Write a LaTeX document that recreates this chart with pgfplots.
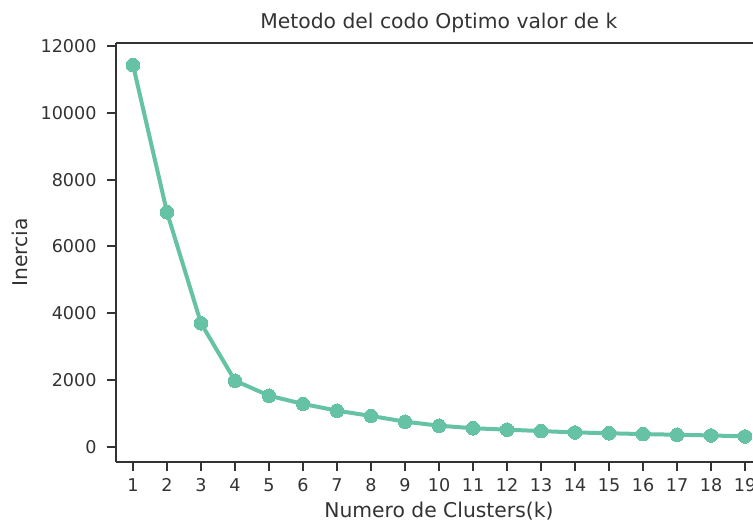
\documentclass[border=0pt]{standalone}
\usepackage{fontspec}
\setmainfont{DejaVu Sans}
\usepackage{pgfplots}
\pgfplotsset{compat=1.18}
\definecolor{seagreen}{HTML}{66C2A5}
\definecolor{dark}{HTML}{333333}
\begin{document}
\begin{tikzpicture}
\useasboundingbox (-58pt,-30pt) rectangle (318.5pt,231pt);
\begin{axis}[
  at={(0,0)}, anchor=south west,
  scale only axis, width=318.5pt, height=209.7pt,
  xmin=0.5, xmax=19.235, ymin=-450, ymax=12100,
  axis x line*=bottom, axis y line*=left,
  xtick={1,...,19}, ytick={0,2000,...,12000},
  scaled y ticks=false,
  /pgf/number format/assume math mode=true,
  yticklabel style={/pgf/number format/1000 sep={}},
  tick align=outside,
  major tick length=4.5pt,
  tick style={line width=1pt, color=dark},
  axis line style={-, line width=1pt, color=dark},
  ticklabel style={font=\fontsize{8.8}{10}\selectfont, text=dark},
  yticklabel style={inner sep=0pt, anchor=east, xshift=-5pt},
  xticklabel style={inner sep=0pt, anchor=north, yshift=-3.75pt},
  label style={font=\fontsize{10.15}{12}\selectfont, text=dark},
  title style={font=\fontsize{10.15}{12}\selectfont, text=dark, at={(axis description cs:0.5,1)}, anchor=center, yshift=3.8pt, xshift=2.2pt},
  title={Metodo del codo Optimo valor de k},
  xlabel={Numero de Clusters(k)},
  ylabel={Inercia},
  xlabel style={at={(axis description cs:0.5,0)}, anchor=center, yshift=-24.5pt, xshift=2.2pt},
  ylabel style={at={(axis description cs:0,0.5)}, anchor=center, yshift=48pt},
  clip=false,
]
\draw[dark, line width=1pt] (rel axis cs:0,1) -- (rel axis cs:1,1);
\addplot[color=seagreen, line width=2pt, mark=*, mark size=3.4pt, mark options={solid, fill=seagreen, draw=seagreen, line width=0pt}]
coordinates {
(1,11430) (2,7023) (3,3701) (4,1984) (5,1535) (6,1287) (7,1086) (8,928)
(9,757) (10,637) (11,560) (12,518) (13,475) (14,435) (15,410) (16,385)
(17,365) (18,345) (19,315)
};
\end{axis}
\end{tikzpicture}
\end{document}
